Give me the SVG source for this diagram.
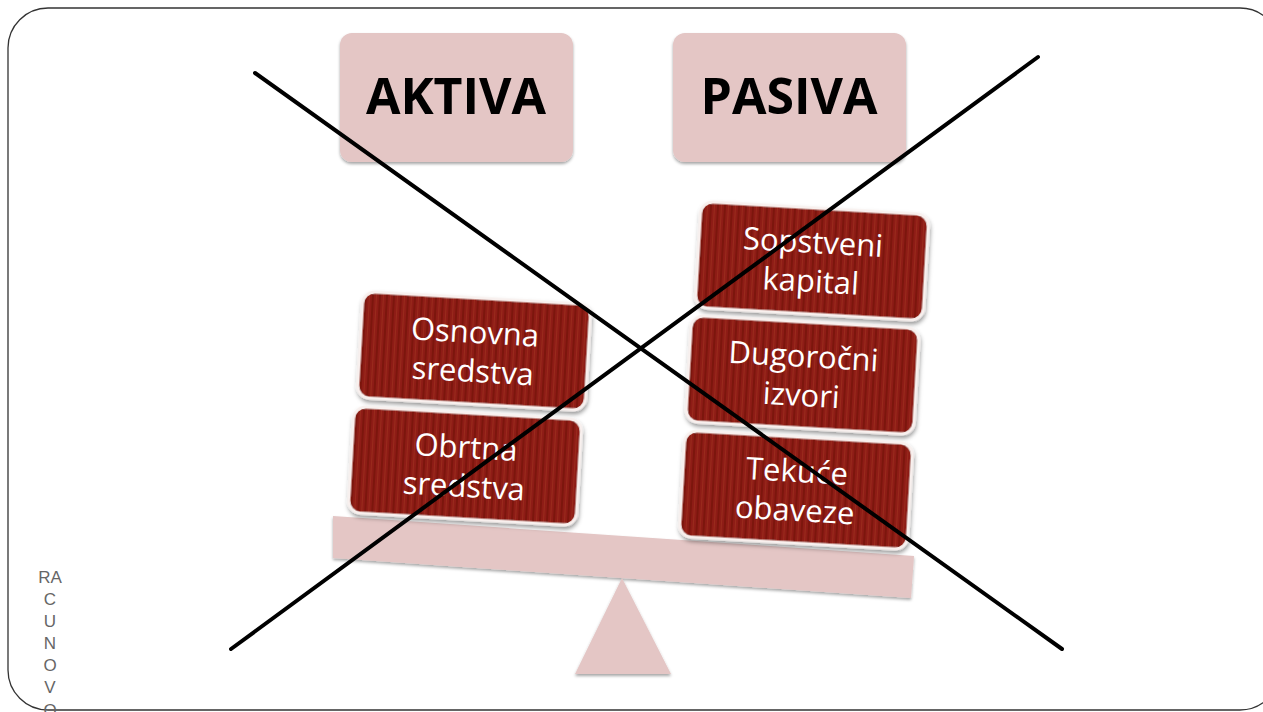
<svg xmlns="http://www.w3.org/2000/svg" width="1263" height="712" viewBox="0 0 1263 712">
<defs>
<style>
.hdr{fill:#e4c6c5;}
.hdrt{font-family:"Open Sans","DejaVu Sans",sans-serif;font-weight:bold;font-size:50px;fill:#000;text-anchor:middle;}
.box{fill:url(#stripes);stroke:#f8f0ee;stroke-width:3;}
.bt{font-family:"Open Sans","Noto Sans",sans-serif;font-size:31px;fill:#fff;text-anchor:middle;}
.side{font-family:"Liberation Sans",Arial,sans-serif;font-size:17px;fill:#666;text-anchor:middle;}
.x{stroke:#000;stroke-width:4;stroke-linecap:round;}
</style>
<pattern id="stripes" patternUnits="userSpaceOnUse" width="7" height="10">
<rect width="7" height="10" fill="#8e1d12"/>
<rect x="0" width="2" height="10" fill="#7c140b"/>
<rect x="4" width="1" height="10" fill="#9a2a1d"/>
</pattern>
<filter id="sh" x="-10%" y="-10%" width="120%" height="130%">
<feDropShadow dx="1" dy="3" stdDeviation="2" flood-color="#000" flood-opacity="0.4"/>
</filter>
<filter id="sh2" x="-10%" y="-10%" width="120%" height="130%">
<feDropShadow dx="0" dy="2" stdDeviation="1.5" flood-color="#000" flood-opacity="0.35"/>
</filter>
</defs>
<rect width="1263" height="712" fill="#fff"/>
<rect x="8" y="8" width="1272" height="702" rx="40" ry="40" fill="none" stroke="#333" stroke-width="1.3"/>

<g id="aktiva">
<rect class="hdr" x="340" y="33" width="233" height="129" rx="12" filter="url(#sh2)"/>
<text class="hdrt" x="456" y="114">AKTIVA</text>
</g>
<g id="pasiva">
<rect class="hdr" x="673" y="33" width="233" height="129" rx="12" filter="url(#sh2)"/>
<text class="hdrt" x="789" y="114">PASIVA</text>
</g>

<g id="plank">
<polygon points="333,516 914,556 911,598 333,558" fill="#e4c6c5" filter="url(#sh2)"/>
</g>
<g id="fulcrum">
<polygon points="622,578 671,674 575,674" fill="#e4c6c5" filter="url(#sh2)"/>
</g>

<g id="osnovna" transform="translate(474,351) rotate(3.3)">
<rect class="box" x="-114" y="-53" width="228" height="106" rx="12" filter="url(#sh)"/>
<text class="bt" x="0" y="-8">Osnovna</text>
<text class="bt" x="0" y="31">sredstva</text>
</g>
<g id="obrtna" transform="translate(465,466) rotate(3.3)">
<rect class="box" x="-114" y="-53" width="228" height="106" rx="12" filter="url(#sh)"/>
<text class="bt" x="0" y="-8">Obrtna</text>
<text class="bt" x="0" y="31">sredstva</text>
</g>
<g id="sopstveni" transform="translate(812,261) rotate(3.3)">
<rect class="box" x="-114" y="-53" width="228" height="106" rx="12" filter="url(#sh)"/>
<text class="bt" x="0" y="-8">Sopstveni</text>
<text class="bt" x="0" y="31">kapital</text>
</g>
<g id="dugorocni" transform="translate(802.5,375) rotate(3.3)">
<rect class="box" x="-114" y="-53" width="228" height="106" rx="12" filter="url(#sh)"/>
<text class="bt" x="0" y="-8">Dugoročni</text>
<text class="bt" x="0" y="31">izvori</text>
</g>
<g id="tekuce" transform="translate(796,490) rotate(3.3)">
<rect class="box" x="-114" y="-53" width="228" height="106" rx="12" filter="url(#sh)"/>
<text class="bt" x="0" y="-8">Tekuće</text>
<text class="bt" x="0" y="31">obaveze</text>
</g>

<g id="connectors">
<line class="x" x1="255" y1="73" x2="1062" y2="649"/>
<line class="x" x1="1038" y1="57" x2="231" y2="649"/>
</g>

<g id="sidebar">
<text class="side" x="50" y="583">RA</text>
<text class="side" x="50" y="605">C</text>
<text class="side" x="50" y="627">U</text>
<text class="side" x="50" y="649">N</text>
<text class="side" x="50" y="671">O</text>
<text class="side" x="50" y="693">V</text>
<text class="side" x="50" y="716">O</text>
</g>
</svg>
